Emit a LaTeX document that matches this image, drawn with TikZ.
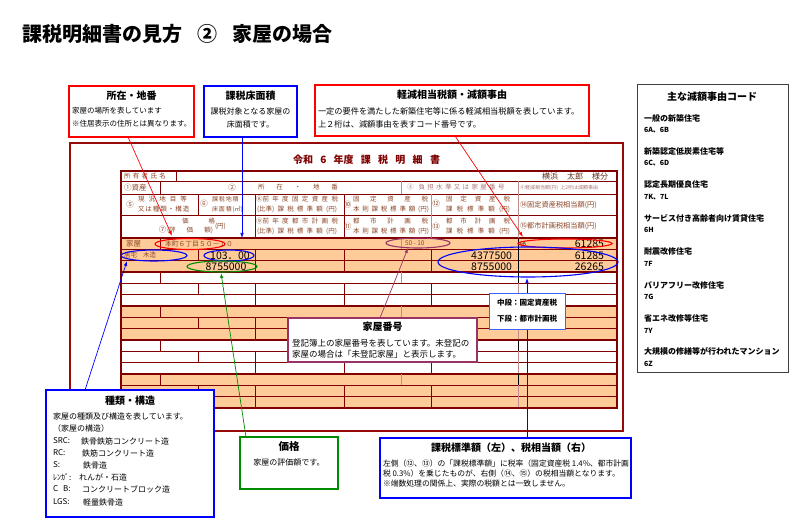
\documentclass[tikz,border=0pt]{standalone}
\usepackage{fontspec}
\setmainfont{Noto Sans CJK JP}
\usetikzlibrary{arrows.meta,shapes.geometric}
\definecolor{dred}{RGB}{128,0,0}
\definecolor{frm}{RGB}{150,10,10}
\definecolor{rosy}{RGB}{192,140,140}
\definecolor{hdr}{RGB}{140,70,40}
\definecolor{hdl}{RGB}{170,120,120}
\definecolor{peach}{RGB}{255,204,153}
\definecolor{pur}{RGB}{153,51,102}
\definecolor{grn}{RGB}{0,140,0}
\definecolor{blu}{RGB}{0,0,255}
\definecolor{lblu}{RGB}{60,100,255}
\definecolor{rd}{RGB}{255,0,0}
\newcommand\fs[1]{\fontsize{#1}{#1}\selectfont}
\newcommand\spr[2]{\makebox[#1][s]{#2}}
\begin{document}
\begin{tikzpicture}[x=1pt,y=-1pt,
  every node/.style={inner sep=0pt, outer sep=0pt},
  hd/.style={text=hdr, font=\fs{6.5}},
  num/.style={font=\fs{10.5}},
  ell/.style={ellipse, draw, line width=1.1pt},
  cbox/.style={draw, fill=white, line width=1.4pt, anchor=north west},
  ttl/.style={font=\fs{10}\bfseries},
  body/.style={font=\fs{8}, anchor=west},
  conn/.style={-{Latex[length=5pt,width=3.5pt]}, line width=0.7pt},
  gline/.style={dred, line width=1.5pt},
  sline/.style={dred, line width=0.6pt},
  rline/.style={rosy, line width=0.7pt}
]
\fill[white] (0,0) rectangle (800,529);
\useasboundingbox (0,0) rectangle (800,529);

% title
\node[anchor=west, font=\fs{20}\bfseries] (title) at (22,34) {課税明細書の見方\hspace{15pt}②\hspace{15pt}家屋の場合};

% outer frame
\draw[frm, line width=1.8pt] (70,143) rectangle (623,431);
\node[font=\fs{10}\bfseries, text=dred] (tt) at (366.5,160) {\spr{147pt}{令和 6 年度 課 税 明 細 書}};

% table fills
\foreach \k in {0,2,4} {\fill[peach] (121,{238+34*\k}) rectangle (617,{272+34*\k});}

% data groups
\foreach \k in {0,...,4}{
  \pgfmathsetmacro\ya{238+34*\k}
  \pgfmathsetmacro\yb{\ya+11.33}
  \pgfmathsetmacro\yc{\ya+22.67}
  \pgfmathsetmacro\yd{\ya+34}
  \draw[sline] (121,\yb) -- (617,\yb) (121,\yc) -- (617,\yc);
  \draw[dred, line width=0.7pt] (160,\ya) -- (160,\yb);
  \draw[rline] (401,\ya) -- (401,\yb);
  \draw[black, line width=0.7pt] (518,\ya) -- (518,\yb);
  \draw[dred, line width=0.7pt] (198,\yb) -- (198,\yc);
  \foreach \xx in {255,344,431} {\draw[dred, line width=0.7pt] (\xx,\yb) -- (\xx,\yd);}
  \draw[rline] (518,\yb) -- (518,\yd);
  \draw[gline] (121,\yd) -- (617,\yd);
}
\draw[black, line width=0.9pt] (518,238) -- (518,283);

% header lines
\draw[sline] (121,181) -- (617,181) (121,194) -- (617,194) (121,215) -- (617,215);
\draw[gline] (121,238) -- (617,238);
\draw[dred, line width=0.7pt] (176,171) -- (176,181) (160,181) -- (160,194) (198,194) -- (198,215)
  (255,194) -- (255,238) (344,194) -- (344,238);
\draw[rline] (401,181) -- (401,194) (518,181) -- (518,238) (431,194) -- (431,238);
\draw[gline] (121,171) rectangle (617,408);

% header row 1
\node[hd, anchor=west] (h1) at (124,176.5) {\spr{42pt}{所 有 者 氏 名}};
\node[anchor=east, text=hdr!70!black, font=\fs{8}] (h2) at (608,176.5) {横浜\hspace{9pt}太郎\hspace{9pt}様分};
% header row 2
\node[hd, anchor=west, font=\fs{7.5}] (h3) at (124,187.5) {①資産};
\node[hd, font=\fs{7.5}] (h4) at (232,187.5) {②};
\node[hd, anchor=west] (h5) at (258,187.5) {\spr{80pt}{所 在 ・ 地 番}};
\node[anchor=west, text=hdl, font=\fs{6.5}] (h6) at (407,187.5) {③\hspace{5pt}\spr{86pt}{負 担 水 準 又 は 家 屋 番 号}};
\node[anchor=west, text=hdl, font=\fs{5}] (h7) at (520,187.5) {④軽減相当額(円)\hspace{2pt}上2桁は減額事由};
% header row 3
\node[hd, font=\fs{7.5}] (h8) at (130,204.5) {⑤};
\node[hd, anchor=west] (h9) at (138,199.5) {\spr{49pt}{現 況 地 目 等}};
\node[hd, anchor=west] (h10) at (138,209.5) {\spr{47pt}{又 は 種 類 ・ 構 造}};
\node[hd, font=\fs{7.5}] (h11) at (204,204) {⑥};
\node[hd, anchor=west, font=\fs{6}] (h12) at (212,199.5) {\spr{24pt}{課 税 地 積}};
\node[hd, anchor=west, font=\fs{6}] (h13) at (212,209.5) {\spr{27pt}{床 面 積 (㎡)}};
\node[hd, anchor=west] (h14) at (256,199.5) {\spr{82pt}{⑧前 年 度 固 定 資 産 税}};
\node[hd, anchor=west] (h15) at (257,209.5) {\spr{80pt}{(比準) 課 税 標 準 額 (円)}};
\node[hd, font=\fs{7.5}] (h16) at (347.5,204.5) {⑩};
\node[hd, anchor=west] (h17) at (353,199.5) {\spr{75pt}{固 定 資 産 税}};
\node[hd, anchor=west] (h18) at (353,209.5) {\spr{76pt}{本 則 課 税 標 準 額 (円)}};
\node[hd, font=\fs{7.5}] (h19) at (436,203.5) {⑫};
\node[hd, anchor=west] (h20) at (446,199.5) {\spr{64pt}{固 定 資 産 税}};
\node[hd, anchor=west] (h21) at (446,209.5) {\spr{64pt}{課 税 標 準 額 (円)}};
\node[hd, anchor=west, font=\fs{7.2}] (h22) at (520,205) {⑭固定資産税相当額(円)};
% header row 4
\node[hd, anchor=west] (h23) at (182,221) {\spr{33pt}{価 格}};
\node[hd, font=\fs{7.5}] (h24) at (162.5,230) {⑦};
\node[hd, anchor=west] (h25) at (167,230.5) {\spr{46pt}{(評 価 額)}};
\node[hd, anchor=west] (h26) at (215,226) {(円)};
\node[hd, anchor=west] (h27) at (256,221.5) {\spr{82pt}{⑨前 年 度 都 市 計 画 税}};
\node[hd, anchor=west] (h28) at (257,231.5) {\spr{80pt}{(比準) 課 税 標 準 額 (円)}};
\node[hd, font=\fs{7.5}] (h29) at (347.5,226.5) {⑪};
\node[hd, anchor=west] (h30) at (353,221.5) {\spr{75pt}{都 市 計 画 税}};
\node[hd, anchor=west] (h31) at (353,231.5) {\spr{76pt}{本 則 課 税 標 準 額 (円)}};
\node[hd, font=\fs{7.5}] (h32) at (436,226.5) {⑬};
\node[hd, anchor=west] (h33) at (446,221.5) {\spr{64pt}{都 市 計 画 税}};
\node[hd, anchor=west] (h34) at (446,231.5) {\spr{64pt}{課 税 標 準 額 (円)}};
\node[hd, anchor=west, font=\fs{7.2}] (h35) at (520,226.5) {⑮都市計画税相当額(円)};

% data
\node[hd, anchor=west, font=\fs{7.5}] (d1) at (126,244) {家屋};
\node[hd, anchor=west, font=\fs{6.8}] (d2) at (165,244) {本町６丁目５０－１０};
\node[hd, anchor=west, font=\fs{6.5}] (d3) at (405,243.5) {50 - 10};
\node[anchor=west, font=\fs{5}] (d4) at (520,243.5) {6A};
\node[num, anchor=east] (d5) at (604,243.5) {61285};
\node[hd, anchor=west, font=\fs{6.5}] (d6) at (124,255.5) {居宅\hspace{6pt}木造};
\node[num] (d7) at (230,255.5) {103．00};
\node[num, anchor=east] (d8) at (512,255.5) {4377500};
\node[num, anchor=east] (d9) at (604,255.5) {61285};
\node[num] (d10) at (226,266.5) {8755000};
\node[num, anchor=east] (d11) at (512,266.5) {8755000};
\node[num, anchor=east] (d12) at (604,266.5) {26265};

% ellipses
\node[ell, draw=rd, minimum width=70pt, minimum height=11pt] (e1) at (190,244) {};
\node[ell, draw=blu, minimum width=66pt, minimum height=11pt] (e2) at (154,255.5) {};
\node[ell, draw=blu, minimum width=50pt, minimum height=11pt] (e3) at (229,255.5) {};
\node[ell, draw=grn, minimum width=70pt, minimum height=11pt] (e4) at (222,266.5) {};
\node[ell, draw=pur, minimum width=64pt, minimum height=10pt] (e5) at (418,243) {};
\node[ell, draw=rd, minimum width=94pt, minimum height=9pt] (e6) at (565,243.5) {};
\node[ell, draw=blu, minimum width=180pt, minimum height=30pt] (e7) at (528,262) {};

% connector end points
\coordinate (c1s) at (128,137); \coordinate (c1e) at (172,236);
\coordinate (c2s) at (242,137); \coordinate (c2e) at (242,238);
\coordinate (c3s) at (455,136); \coordinate (c3e) at (523,237);
\coordinate (c4s) at (380,318); \coordinate (c4e) at (408,248);
\coordinate (c5s) at (85,390);  \coordinate (c5e) at (127,261);
\coordinate (c6s) at (246,437); \coordinate (c6e) at (221,273);
\coordinate (c7s) at (527,438); \coordinate (c7e) at (527,278);
\draw[conn, rd] (c1s) -- (c1e);
\draw[conn, blu] (c2s) -- (c2e);
\draw[conn, rd] (c3s) -- (c3e);
\draw[conn, pur] (c4s) -- (c4e);
\draw[conn, blu] (c5s) -- (c5e);
\draw[conn, grn] (c6s) -- (c6e);
\draw[conn, blu] (c7s) -- (c7e);

% callout boxes
\node[cbox, draw=rd, minimum width=125pt, minimum height=51pt] (b1) at (69,86) {};
\node[ttl] (b1t) at (131.5,96) {所在・地番};
\node[body, font=\fs{7.5}] (b1a) at (72,111) {家屋の場所を表しています};
\node[body, font=\fs{7.5}] (b1b) at (72,124) {※住居表示の住所とは異なります。};

\node[cbox, draw=blu, minimum width=93pt, minimum height=51pt] (b2) at (204,86) {};
\node[ttl] (b2t) at (250.5,96) {課税床面積};
\node[font=\fs{8}] (b2a) at (250.5,111) {課税対象となる家屋の};
\node[font=\fs{8}] (b2b) at (250.5,124) {床面積です。};

\node[cbox, draw=rd, minimum width=274pt, minimum height=51pt] (b3) at (315,85) {};
\node[ttl] (b3t) at (452,95) {軽減相当税額・減額事由};
\node[body, font=\fs{8.2}] (b3a) at (318,111.5) {一定の要件を満たした新築住宅等に係る軽減相当税額を表しています。};
\node[body, font=\fs{8.2}] (b3b) at (318,124) {上２桁は、減額事由を表すコード番号です。};

\node[cbox, draw=black!75, line width=1pt, minimum width=151pt, minimum height=287pt] (b4) at (637,85) {};
\node[ttl] (b4t) at (712,97) {主な減額事由コード};
\foreach \h/\c [count=\i from 0] in {一般の新築住宅/6A、6B, 新築認定低炭素住宅等/6C、6D, 認定長期優良住宅/7K、7L, サービス付き高齢者向け賃貸住宅/6H, 耐震改修住宅/7F, バリアフリー改修住宅/7G, 省エネ改修等住宅/7Y, 大規模の修繕等が行われたマンション/6Z} {
  \node[anchor=west, font=\fs{8}\bfseries] (r\i) at (644,{118+33.4*\i}) {\h};
  \node[anchor=west, font=\fs{7}\bfseries] (s\i) at (644,{130+33.4*\i}) {\c};
}

\node[cbox, draw=pur, line width=1.2pt, minimum width=189pt, minimum height=44pt] (b5) at (288,318) {};
\node[ttl] (b5t) at (382.5,327) {家屋番号};
\node[body, font=\fs{8.5}] (b5a) at (292,343.5) {登記簿上の家屋番号を表しています。未登記の};
\node[body, font=\fs{8.5}] (b5b) at (292,354) {家屋の場合は「未登記家屋」と表示します。};

\node[cbox, draw=lblu, line width=0.8pt, minimum width=76pt, minimum height=36pt] (b6) at (489,293) {};
\node[font=\fs{7.5}\bfseries] (b6a) at (527,303) {中段：固定資産税};
\node[font=\fs{7.5}\bfseries] (b6b) at (527,319) {下段：都市計画税};

\node[cbox, draw=blu, line width=2pt, minimum width=168pt, minimum height=127pt] (b7) at (46,390) {};
\node[ttl] (b7t) at (130,401) {種類・構造};
\node[body] (k1) at (53,416) {家屋の種類及び構造を表しています。};
\node[body] (k2) at (53,428.5) {（家屋の構造）};
\node[body] (k3) at (53,441) {SRC:};  \node[body] (k3b) at (81,441) {鉄骨鉄筋コンクリート造};
\node[body] (k4) at (53,453) {RC:};   \node[body] (k4b) at (82,453) {鉄筋コンクリート造};
\node[body] (k5) at (53,465) {S:};    \node[body] (k5b) at (83,465) {鉄骨造};
\node[body] (k6) at (53,477) {ﾚﾝｶﾞ:};  \node[body] (k6b) at (79,477) {れんが・石造};
\node[body] (k7) at (53,489) {C\hspace{5pt}B:}; \node[body] (k7b) at (82,489) {コンクリートブロック造};
\node[body] (k8) at (53,502) {LGS:};  \node[body] (k8b) at (83,502) {軽量鉄骨造};

\node[cbox, draw=grn, line width=1.4pt, minimum width=98pt, minimum height=52pt] (b8) at (240,437) {};
\node[ttl, font=\fs{10.5}\bfseries] (b8t) at (289,447) {価格};
\node[font=\fs{8}] (b8a) at (289,462) {家屋の評価額です。};

\node[cbox, draw=blu, minimum width=251pt, minimum height=60pt] (b9) at (380,438) {};
\node[ttl] (b9t) at (511,447.5) {課税標準額（左）、税相当額（右）};
\node[body, font=\fs{7.8}] (b9a) at (383,463.5) {左側（⑫、⑬）の「課税標準額」に税率（固定資産税 1.4\%、都市計画};
\node[body, font=\fs{7.8}] (b9b) at (383,474) {税 0.3\%）を乗じたものが、右側（⑭、⑮）の税相当額となります。};
\node[body, font=\fs{7.8}] (b9c) at (383,484) {※端数処理の関係上、実際の税額とは一致しません。};
\end{tikzpicture}
\end{document}
